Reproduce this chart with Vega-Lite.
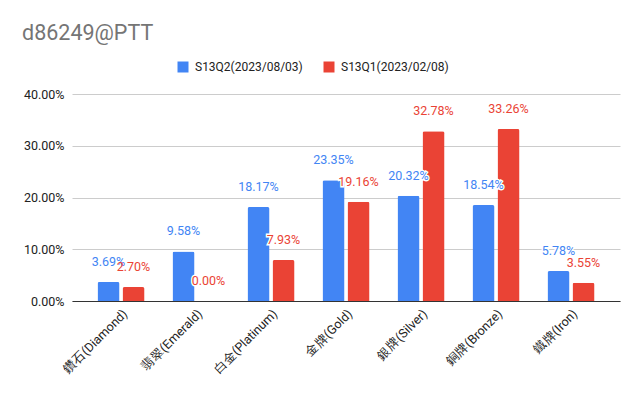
{
  "$schema": "https://vega.github.io/schema/vega-lite/v6.json",
  "width": 548,
  "height": 207,
  "autosize": {"type": "none"},
  "padding": {"left": 72, "top": 94, "right": 20, "bottom": 95},
  "background": "white",
  "config": {"font": "Roboto", "view": {"stroke": null}},
  "title": {"text": "d86249@PTT", "anchor": "start", "frame": "group", "dx": -50, "offset": 17, "fontSize": 21.5, "font": "Roboto", "fontWeight": "normal", "color": "#757575"},
  "data": {"values": [
    {"tier": "鑽石(Diamond)", "series": "S13Q2(2023/08/03)", "value": 0.0369},
    {"tier": "鑽石(Diamond)", "series": "S13Q1(2023/02/08)", "value": 0.0270},
    {"tier": "翡翠(Emerald)", "series": "S13Q2(2023/08/03)", "value": 0.0958},
    {"tier": "翡翠(Emerald)", "series": "S13Q1(2023/02/08)", "value": 0.0},
    {"tier": "白金(Platinum)", "series": "S13Q2(2023/08/03)", "value": 0.1817},
    {"tier": "白金(Platinum)", "series": "S13Q1(2023/02/08)", "value": 0.0793},
    {"tier": "金牌(Gold)", "series": "S13Q2(2023/08/03)", "value": 0.2335},
    {"tier": "金牌(Gold)", "series": "S13Q1(2023/02/08)", "value": 0.1916},
    {"tier": "銀牌(Silver)", "series": "S13Q2(2023/08/03)", "value": 0.2032},
    {"tier": "銀牌(Silver)", "series": "S13Q1(2023/02/08)", "value": 0.3278},
    {"tier": "銅牌(Bronze)", "series": "S13Q2(2023/08/03)", "value": 0.1854},
    {"tier": "銅牌(Bronze)", "series": "S13Q1(2023/02/08)", "value": 0.3326},
    {"tier": "鐵牌(Iron)", "series": "S13Q2(2023/08/03)", "value": 0.0578},
    {"tier": "鐵牌(Iron)", "series": "S13Q1(2023/02/08)", "value": 0.0355}
  ]},
  "encoding": {
    "x": {"field": "tier", "type": "nominal", "sort": null, "title": null,
      "scale": {"paddingInner": 0.373, "paddingOuter": 0.34},
      "axis": {"labelAngle": -45, "labelFontSize": 12.5, "labelColor": "#222222", "ticks": false, "domainColor": "#333333", "labelPadding": 6, "labelDx": 3, "labelFont": "Roboto"}},
    "xOffset": {"field": "series", "type": "nominal", "sort": ["S13Q2(2023/08/03)", "S13Q1(2023/02/08)"], "scale": {"paddingInner": 0.12, "paddingOuter": 0}},
    "y": {"field": "value", "type": "quantitative", "title": null,
      "scale": {"domain": [0, 0.4]},
      "axis": {"format": ".2%", "values": [0, 0.1, 0.2, 0.3, 0.4], "labelFontSize": 12.5, "labelColor": "#222222", "ticks": false, "domain": false, "gridColor": "#cccccc", "labelPadding": 8}}
  },
  "layer": [
    {"mark": {"type": "bar", "cornerRadiusTopLeft": 2, "cornerRadiusTopRight": 2},
     "encoding": {"color": {"field": "series", "type": "nominal", "sort": ["S13Q2(2023/08/03)", "S13Q1(2023/02/08)"],
       "scale": {"domain": ["S13Q2(2023/08/03)", "S13Q1(2023/02/08)"], "range": ["#4285F4", "#EA4335"]},
       "legend": {"title": null, "orient": "none", "legendX": 105, "legendY": -33, "direction": "horizontal", "symbolType": "square", "symbolSize": 121, "symbolStrokeWidth": 0, "labelFontSize": 12, "labelColor": "#222222", "labelFont": "Roboto", "columnPadding": 20, "labelOffset": 6}}}},
    {"mark": {"type": "text", "baseline": "alphabetic", "dy": -16, "fontSize": 12.5, "fill": "white", "stroke": "white", "strokeWidth": 3},
     "encoding": {"text": {"field": "value", "type": "quantitative", "format": ".2%"}}},
    {"mark": {"type": "text", "baseline": "alphabetic", "dy": -16, "fontSize": 12.5},
     "encoding": {"text": {"field": "value", "type": "quantitative", "format": ".2%"},
       "color": {"field": "series", "type": "nominal", "sort": ["S13Q2(2023/08/03)", "S13Q1(2023/02/08)"], "legend": null}}}
  ]
}
